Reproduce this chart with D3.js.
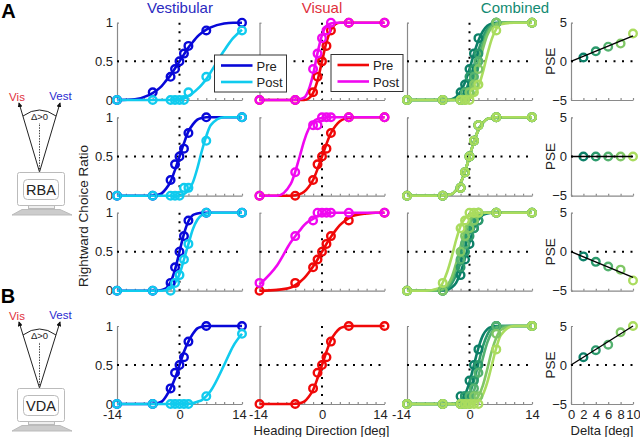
<!DOCTYPE html>
<html lang="en">
<head>
    <meta charset="UTF-8">
    <title>Choice ratio</title>
    <script src="https://cdn.jsdelivr.net/npm/d3@7"></script>
    <style>
        html, body { margin: 0; padding: 0; background: #fff; }
        svg { display: block; }
        text { font-family: "Liberation Sans", Arial, sans-serif; fill: #222; }
        .axis path, .axis line { stroke: #8a8a8a; stroke-width: 1.2; }
        .axis text { font-size: 13px; fill: #222; font-family: "Liberation Sans", Arial, sans-serif; }
    </style>
</head>
<body>
<svg width="640" height="437"></svg>
<script>
    // headings of the measured points, and the grid the fitted curves were read on
    var headings = [-14, -6, -2, -1, 0, 1, 2, 6, 14];
    var fitGrid = [-14, -10, -7, -5, -4, -3, -2, -1, 0, 1, 2, 3, 4, 5, 6, 7, 10, 12, 14];
    var deltas = [2, 4, 6, 8, 10];

    var vestPre1 = [0, .1, .3, .4, .5, .6, .7, .9, 1];
    var vestPost1 = [0, 0, 0, 0, 0, 0, .1, .3, .9];
    var visPre1 = [0, 0, .1, .3, .5, .7, .9, 1, 1];
    var visPost1 = [0, 0, .4, .6, .8, .9, 1, 1, 1];
    var vestPre2 = [0, 0, .2, .4, .5, .6, .8, 1, 1];
    var vestPost2 = [0, 0, 0, 0, 0, .1, .1, .7, 1];
    var visPre2 = [0, 0, .2, .4, .5, .6, .8, 1, 1];
    var visPost2 = [0, .3, .9, .9, 1, 1, 1, 1, 1];
    var vestPre3 = [0, 0, .1, .3, .5, .7, .9, 1, 1];
    var vestPost3 = [0, 0, 0, .1, .2, .4, .6, 1, 1];
    var visPre3 = [0, .1, .3, .4, .5, .6, .7, .9, 1];
    var visPost3 = [.1, .7, .9, 1, 1, 1, 1, 1, 1];
    var vestPre4 = [0, 0, .2, .4, .5, .6, .8, 1, 1];
    var vestPost4 = [0, 0, 0, 0, 0, 0, 0, .1, .9];
    var visPre4 = [0, 0, .2, .4, .5, .6, .8, 1, 1];

    var vestPreFit1 = [0, .01, .06, .13, .18, .25, .32, .41, .5, .59, .68, .75, .82, .87, .91, .94, .99, 1, 1];
    var vestPostFit1 = [0, 0, 0, 0, 0, 0, 0, 0, .01, .02, .05, .09, .14, .2, .27, .36, .64, .8, .91];
    var visPreFit1 = [0, 0, 0, 0, 0, .02, .09, .25, .5, .75, .91, .98, 1, 1, 1, 1, 1, 1, 1];
    var visPostFit1 = [0, 0, 0, .01, .03, .13, .33, .61, .84, .96, .99, 1, 1, 1, 1, 1, 1, 1, 1];
    var vestPreFit2 = [0, 0, 0, .01, .03, .09, .18, .33, .5, .67, .82, .91, .97, .99, 1, 1, 1, 1, 1];
    var vestPostFit2 = [0, 0, 0, 0, 0, 0, 0, 0, 0, .02, .07, .17, .35, .57, .76, .9, 1, 1, 1];
    var visPreFit2 = [0, 0, 0, .02, .05, .11, .2, .34, .5, .66, .8, .89, .95, .98, .99, 1, 1, 1, 1];
    var visPostFit2 = [0, 0, .15, .5, .7, .85, .94, .98, .99, 1, 1, 1, 1, 1, 1, 1, 1, 1, 1];
    var vestPreFit3 = [0, 0, 0, 0, .01, .03, .11, .27, .5, .73, .89, .97, .99, 1, 1, 1, 1, 1, 1];
    var vestPostFit3 = [0, 0, 0, 0, 0, .01, .03, .1, .21, .4, .6, .79, .91, .97, .99, 1, 1, 1, 1];
    var visPreFit3 = [0, .01, .04, .11, .16, .23, .31, .4, .5, .6, .69, .77, .84, .89, .93, .96, .99, 1, 1];
    var visPostFit3 = [.08, .33, .62, .77, .84, .89, .92, .96, .98, .99, 1, 1, 1, 1, 1, 1, 1, 1, 1];
    var vestPreFit4 = [0, 0, 0, .01, .03, .1, .2, .33, .5, .67, .8, .9, .97, .99, 1, 1, 1, 1, 1];
    var vestPostFit4 = [0, 0, 0, 0, 0, 0, 0, 0, 0, 0, 0, .01, .03, .05, .1, .17, .5, .74, .9];
    var visPreFit4 = [0, 0, 0, .01, .03, .09, .18, .33, .5, .67, .82, .91, .97, .99, 1, 1, 1, 1, 1];

    // combined condition, one list per delta (2, 4, 6, 8, 10)
    var comb1 = [
        [0, 0, .1, .2, .4, .6, .8, 1, 1],
        [0, 0, 0, .1, .3, .4, .6, 1, 1],
        [0, 0, 0, .1, .1, .3, .5, 1, 1],
        [0, 0, 0, 0, .1, .2, .4, 1, 1],
        [0, 0, 0, 0, 0, .1, .2, .9, 1]
    ];
    var combFit1 = [
        [0, 0, 0, 0, .01, .04, .11, .23, .4, .6, .77, .89, .96, .99, 1, 1, 1, 1, 1],
        [0, 0, 0, 0, 0, .01, .04, .11, .25, .44, .64, .81, .92, .97, .99, 1, 1, 1, 1],
        [0, 0, 0, 0, 0, 0, .02, .05, .15, .31, .52, .73, .88, .96, .99, 1, 1, 1, 1],
        [0, 0, 0, 0, 0, 0, .01, .03, .09, .22, .43, .66, .84, .94, .98, 1, 1, 1, 1],
        [0, 0, 0, 0, 0, 0, 0, 0, .02, .06, .17, .36, .59, .79, .92, .98, 1, 1, 1]
    ];
    var comb2Points = [0, 0, .1, .3, .5, .7, .9, 1, 1];
    var comb2Fit = [0, 0, 0, .01, .02, .07, .16, .31, .5, .69, .84, .93, .98, .99, 1, 1, 1, 1, 1];
    var comb2 = [comb2Points, comb2Points, comb2Points, comb2Points, comb2Points];
    var combFit2 = [comb2Fit, comb2Fit, comb2Fit, comb2Fit, comb2Fit];
    var comb3 = [
        [0, 0, .2, .4, .6, .8, .9, 1, 1],
        [0, 0, .3, .5, .7, .8, .9, 1, 1],
        [0, 0, .4, .6, .8, .9, 1, 1, 1],
        [0, 0, .5, .7, .8, .9, 1, 1, 1],
        [0, .1, .8, .9, 1, 1, 1, 1, 1]
    ];
    var combFit3 = [
        [0, 0, 0, .01, .04, .1, .23, .42, .62, .8, .91, .97, .99, 1, 1, 1, 1, 1, 1],
        [0, 0, 0, .03, .09, .2, .36, .56, .74, .87, .95, .98, 1, 1, 1, 1, 1, 1, 1],
        [0, 0, 0, .05, .13, .28, .48, .68, .84, .94, .98, 1, 1, 1, 1, 1, 1, 1, 1],
        [0, 0, .01, .07, .17, .35, .57, .76, .9, .97, .99, 1, 1, 1, 1, 1, 1, 1, 1],
        [0, 0, .03, .24, .43, .65, .83, .93, .98, 1, 1, 1, 1, 1, 1, 1, 1, 1, 1]
    ];
    var comb4 = [
        [0, 0, .1, .1, .3, .5, .7, 1, 1],
        [0, 0, 0, .1, .1, .3, .5, 1, 1],
        [0, 0, 0, 0, .1, .2, .4, 1, 1],
        [0, 0, 0, 0, 0, .1, .1, .9, 1],
        [0, 0, 0, 0, 0, 0, 0, .7, 1]
    ];
    var combFit4 = [
        [0, 0, 0, 0, 0, .01, .04, .12, .28, .5, .72, .88, .96, .99, 1, 1, 1, 1, 1],
        [0, 0, 0, 0, 0, 0, .01, .04, .13, .3, .52, .74, .89, .97, .99, 1, 1, 1, 1],
        [0, 0, 0, 0, 0, 0, 0, .02, .06, .17, .36, .59, .79, .92, .98, .99, 1, 1, 1],
        [0, 0, 0, 0, 0, 0, 0, 0, .01, .03, .1, .24, .45, .68, .85, .95, 1, 1, 1],
        [0, 0, 0, 0, 0, 0, 0, 0, 0, .01, .04, .12, .28, .5, .72, .88, 1, 1, 1]
    ];

    var pse1 = [.5, 1.3, 1.9, 2.3, 3.6];
    var pse2 = [0, 0, 0, 0, 0];
    var pse3 = [-.6, -1.3, -1.9, -2.3, -3.7];
    var pse4 = [1, 1.9, 2.6, 4.2, 5];
    var pseLineEnd = [3.3, 0, -3.3, 5];

    var xTickLabels = [-14, 0, 14];
    var yTickLabels = [0, .5, 1];
    var pseTickLabels = [-5, 0, 5];
    var deltaTickLabels = [0, 2, 4, 6, 8, 10];

    var BLUE = "#0808d8", CYAN = "#10cbee", RED = "#f00808", MAGENTA = "#f008f0";
    var combColors = ["#0c8068", "#2b9a6c", "#55b270", "#80c766", "#aadc5e"];

    var svg = d3.select("svg");

    var rowTops = [22.7, 117.3, 212.7, 326];
    var rowBottoms = [100, 195.7, 290.7, 404];
    var colLeft = [117, 259.5, 407];
    var colRight = [242, 384.5, 532];
    // the end labels sit a little inward of their ticks so neighbours don't collide
    var firstLabelShift = [-5, -1.5, -6];
    var lastLabelShift = [-3, -4.5, 0];

    function curve(x, y) {
        return d3.line()
            .x(function(d) { return x(d[0]); })
            .y(function(d) { return y(d[1]); })
            .curve(d3.curveMonotoneX);
    }

    function dots(g, x, y, data, color) {
        g.selectAll(null).data(data).enter().append("circle")
            .attr("cx", function(d) { return x(d[0]); })
            .attr("cy", function(d) { return y(d[1]); })
            .attr("r", 3.8)
            .attr("fill", "none")
            .attr("stroke", color)
            .attr("stroke-width", 2.4);
    }

    function dotted(g, x1, y1, x2, y2) {
        g.append("line")
            .attr("x1", x1).attr("y1", y1).attr("x2", x2).attr("y2", y2)
            .attr("stroke", "#000")
            .attr("stroke-width", 2)
            .attr("stroke-dasharray", "2,6.5");
    }

    function psychPanel(row, col, series) {
        var x = d3.scaleLinear().domain([-14, 14]).range([colLeft[col], colRight[col]]);
        var y = d3.scaleLinear().domain([0, 1]).range([rowBottoms[row], rowTops[row]]);
        var g = svg.append("g");
        var ticks = d3.range(-14, 15, 2);

        var xAxis = g.append("g").attr("class", "axis")
            .attr("transform", "translate(0," + rowBottoms[row] + ")")
            .call(d3.axisBottom(x).tickValues(ticks).tickSizeInner(-2).tickSizeOuter(0).tickPadding(6)
                .tickFormat(function(d) { return row == 3 && xTickLabels.indexOf(d) >= 0 ? d : ""; }));
        xAxis.selectAll(".tick text").attr("dx", function(d) {
            return d == -14 ? firstLabelShift[col] : d == 14 ? lastLabelShift[col] : 0;
        });
        g.append("g").attr("class", "axis")
            .attr("transform", "translate(" + colLeft[col] + ",0)")
            .call(d3.axisLeft(y).tickValues(yTickLabels).tickSizeInner(-2).tickSizeOuter(0).tickPadding(4)
                .tickFormat(function(d) { return col == 0 ? d : ""; }));

        dotted(g, x(-14), y(.5), x(14), y(.5));
        dotted(g, x(0), y(1), x(0), y(0));

        var line = curve(x, y);
        series.forEach(function(s) {
            g.append("path")
                .attr("d", line(d3.zip(fitGrid, s.fit)))
                .attr("fill", "none")
                .attr("stroke", s.color)
                .attr("stroke-width", 2.6);
        });
        series.forEach(function(s) {
            dots(g, x, y, d3.zip(headings, s.points), s.color);
        });
    }

    function psePanel(row, values) {
        var x = d3.scaleLinear().domain([0, 10]).range([571, 633]);
        var y = d3.scaleLinear().domain([-5, 5]).range([rowBottoms[row], rowTops[row]]);
        var g = svg.append("g");

        g.append("g").attr("class", "axis")
            .attr("transform", "translate(0," + rowBottoms[row] + ")")
            .call(d3.axisBottom(x).tickValues(deltaTickLabels).tickSizeInner(-2).tickSizeOuter(0).tickPadding(6)
                .tickFormat(function(d) { return row == 3 ? d : ""; }));
        g.append("g").attr("class", "axis")
            .attr("transform", "translate(571,0)")
            .call(d3.axisLeft(y).tickValues(pseTickLabels).tickSizeInner(-2).tickSizeOuter(0).tickPadding(4));

        dotted(g, x(0), y(0), x(10), y(0));
        d3.zip(deltas, values).forEach(function(d, i) {
            dots(g, x, y, [d], combColors[i]);
        });
        g.append("line")
            .attr("x1", x(0)).attr("y1", y(0))
            .attr("x2", x(10)).attr("y2", y(pseLineEnd[row]))
            .attr("stroke", "#000")
            .attr("stroke-width", 1.4);

        g.append("text")
            .attr("transform", "translate(555," + y(0) + ") rotate(-90)")
            .attr("text-anchor", "middle")
            .style("font-size", "13.5px")
            .text("PSE");
    }

    function combSeries(points, fits) {
        return points.map(function(p, i) {
            return { points: p, fit: fits[i], color: combColors[i] };
        });
    }

    psychPanel(0, 0, [{ points: vestPre1, fit: vestPreFit1, color: BLUE }, { points: vestPost1, fit: vestPostFit1, color: CYAN }]);
    psychPanel(1, 0, [{ points: vestPre2, fit: vestPreFit2, color: BLUE }, { points: vestPost2, fit: vestPostFit2, color: CYAN }]);
    psychPanel(2, 0, [{ points: vestPre3, fit: vestPreFit3, color: BLUE }, { points: vestPost3, fit: vestPostFit3, color: CYAN }]);
    psychPanel(3, 0, [{ points: vestPre4, fit: vestPreFit4, color: BLUE }, { points: vestPost4, fit: vestPostFit4, color: CYAN }]);

    psychPanel(0, 1, [{ points: visPre1, fit: visPreFit1, color: RED }, { points: visPost1, fit: visPostFit1, color: MAGENTA }]);
    psychPanel(1, 1, [{ points: visPre2, fit: visPreFit2, color: RED }, { points: visPost2, fit: visPostFit2, color: MAGENTA }]);
    psychPanel(2, 1, [{ points: visPre3, fit: visPreFit3, color: RED }, { points: visPost3, fit: visPostFit3, color: MAGENTA }]);
    psychPanel(3, 1, [{ points: visPre4, fit: visPreFit4, color: RED }]);

    psychPanel(0, 2, combSeries(comb1, combFit1));
    psychPanel(1, 2, combSeries(comb2, combFit2));
    psychPanel(2, 2, combSeries(comb3, combFit3));
    psychPanel(3, 2, combSeries(comb4, combFit4));

    psePanel(0, pse1);
    psePanel(1, pse2);
    psePanel(2, pse3);
    psePanel(3, pse4);

    function legend(left, top, w, c1, c2) {
        var g = svg.append("g").attr("transform", "translate(" + left + "," + top + ")");
        g.append("rect").attr("width", w).attr("height", 37)
            .attr("fill", "#fff").attr("stroke", "#333").attr("stroke-width", 1);
        [["Pre", c1, 10.5], ["Post", c2, 27]].forEach(function(d) {
            g.append("line").attr("x1", 6.5).attr("x2", 38).attr("y1", d[2]).attr("y2", d[2])
                .attr("stroke", d[1]).attr("stroke-width", 2.6);
            g.append("text").attr("x", 42).attr("y", d[2] + 5).style("font-size", "13px").text(d[0]);
        });
    }
    legend(214.5, 55, 72, BLUE, CYAN);
    legend(331, 54.5, 72, RED, MAGENTA);

    function label(text, x, y, size, color, rot, weight) {
        var t = svg.append("text")
            .attr("text-anchor", "middle")
            .style("font-size", size + "px")
            .style("fill", color)
            .text(text);
        if (weight) t.style("font-weight", weight);
        t.attr("transform", "translate(" + x + "," + y + ")" + (rot ? " rotate(" + rot + ")" : ""));
        return t;
    }

    label("Vestibular", 180, 13, 15, "#2a2ac0");
    label("Visual", 322, 13, 15, "#e0303c");
    label("Combined", 515, 13, 15, "#128a72");
    label("Rightward Choice Ratio", 87.5, 216, 13.5, "#222", -90);
    label("Heading Direction [deg]", 321.5, 434.5, 13, "#222");
    label("Delta [deg]", 602, 434.5, 13, "#222");
    label("A", 8.5, 18, 20, "#000", 0, "bold");
    label("B", 8, 303, 20, "#000", 0, "bold");

    // small setup sketch on the left
    function setup(name, dy, tipDy, textDy) {
        var g = svg.append("g").attr("transform", "translate(0," + dy + ")");
        var defsId = "tip" + name;
        svg.append("defs").append("marker")
            .attr("id", defsId).attr("viewBox", "0 0 6 6").attr("refX", 5).attr("refY", 3)
            .attr("markerWidth", 5).attr("markerHeight", 5).attr("orient", "auto")
            .append("path").attr("d", "M0,0L6,3L0,6Z").attr("fill", "#111");

        [19, 60].forEach(function(tx) {
            g.append("line").attr("x1", 39.5).attr("y1", 172).attr("x2", tx).attr("y2", 103 + tipDy)
                .attr("stroke", "#222").attr("stroke-width", 1)
                .attr("marker-end", "url(#" + defsId + ")");
        });
        g.append("line").attr("x1", 39.5).attr("y1", 172).attr("x2", 39.5).attr("y2", 123 + textDy)
            .attr("stroke", "#444").attr("stroke-width", 1).attr("stroke-dasharray", "1.5,1.2");
        g.append("path").attr("d", "M23," + (116 + textDy) + "Q39.5," + (104 + textDy) + " 56," + (116 + textDy))
            .attr("fill", "none").attr("stroke", "#222").attr("stroke-width", 1);

        g.append("text").attr("x", 17).attr("y", 101 + textDy).attr("text-anchor", "middle")
            .style("font-size", "11.5px").style("fill", "#e03040").text("Vis");
        g.append("text").attr("x", 60.5).attr("y", 100 + textDy).attr("text-anchor", "middle")
            .style("font-size", "11.5px").style("fill", "#2a2ad0").text("Vest");
        g.append("text").attr("x", 39.5).attr("y", 120 + textDy).attr("text-anchor", "middle")
            .style("font-size", "9.5px").text("\u0394>0");

        g.append("rect").attr("x", 17.5).attr("y", 172.5).attr("width", 47).attr("height", 33).attr("rx", 2)
            .attr("fill", "#fff").attr("stroke", "#bbb");
        g.append("rect").attr("x", 23.5).attr("y", 179.5).attr("width", 35).attr("height", 20).attr("rx", 4)
            .attr("fill", "#fff").attr("stroke", "#bbb");
        g.append("text").attr("x", 41).attr("y", 194.5).attr("text-anchor", "middle")
            .style("font-size", "14.5px").text(name);
        g.append("rect").attr("x", 28.5).attr("y", 205.5).attr("width", 26).attr("height", 3)
            .attr("fill", "#eee").attr("stroke", "#bbb");
        g.append("path").attr("d", "M12,215L22,209.5L60,209.5L72,215Z").attr("fill", "#ccc").attr("stroke", "#bbb");
    }
    setup("RBA", 0, 0, 0);
    setup("VDA", 216, 3, 3);
</script>
</body>
</html>
